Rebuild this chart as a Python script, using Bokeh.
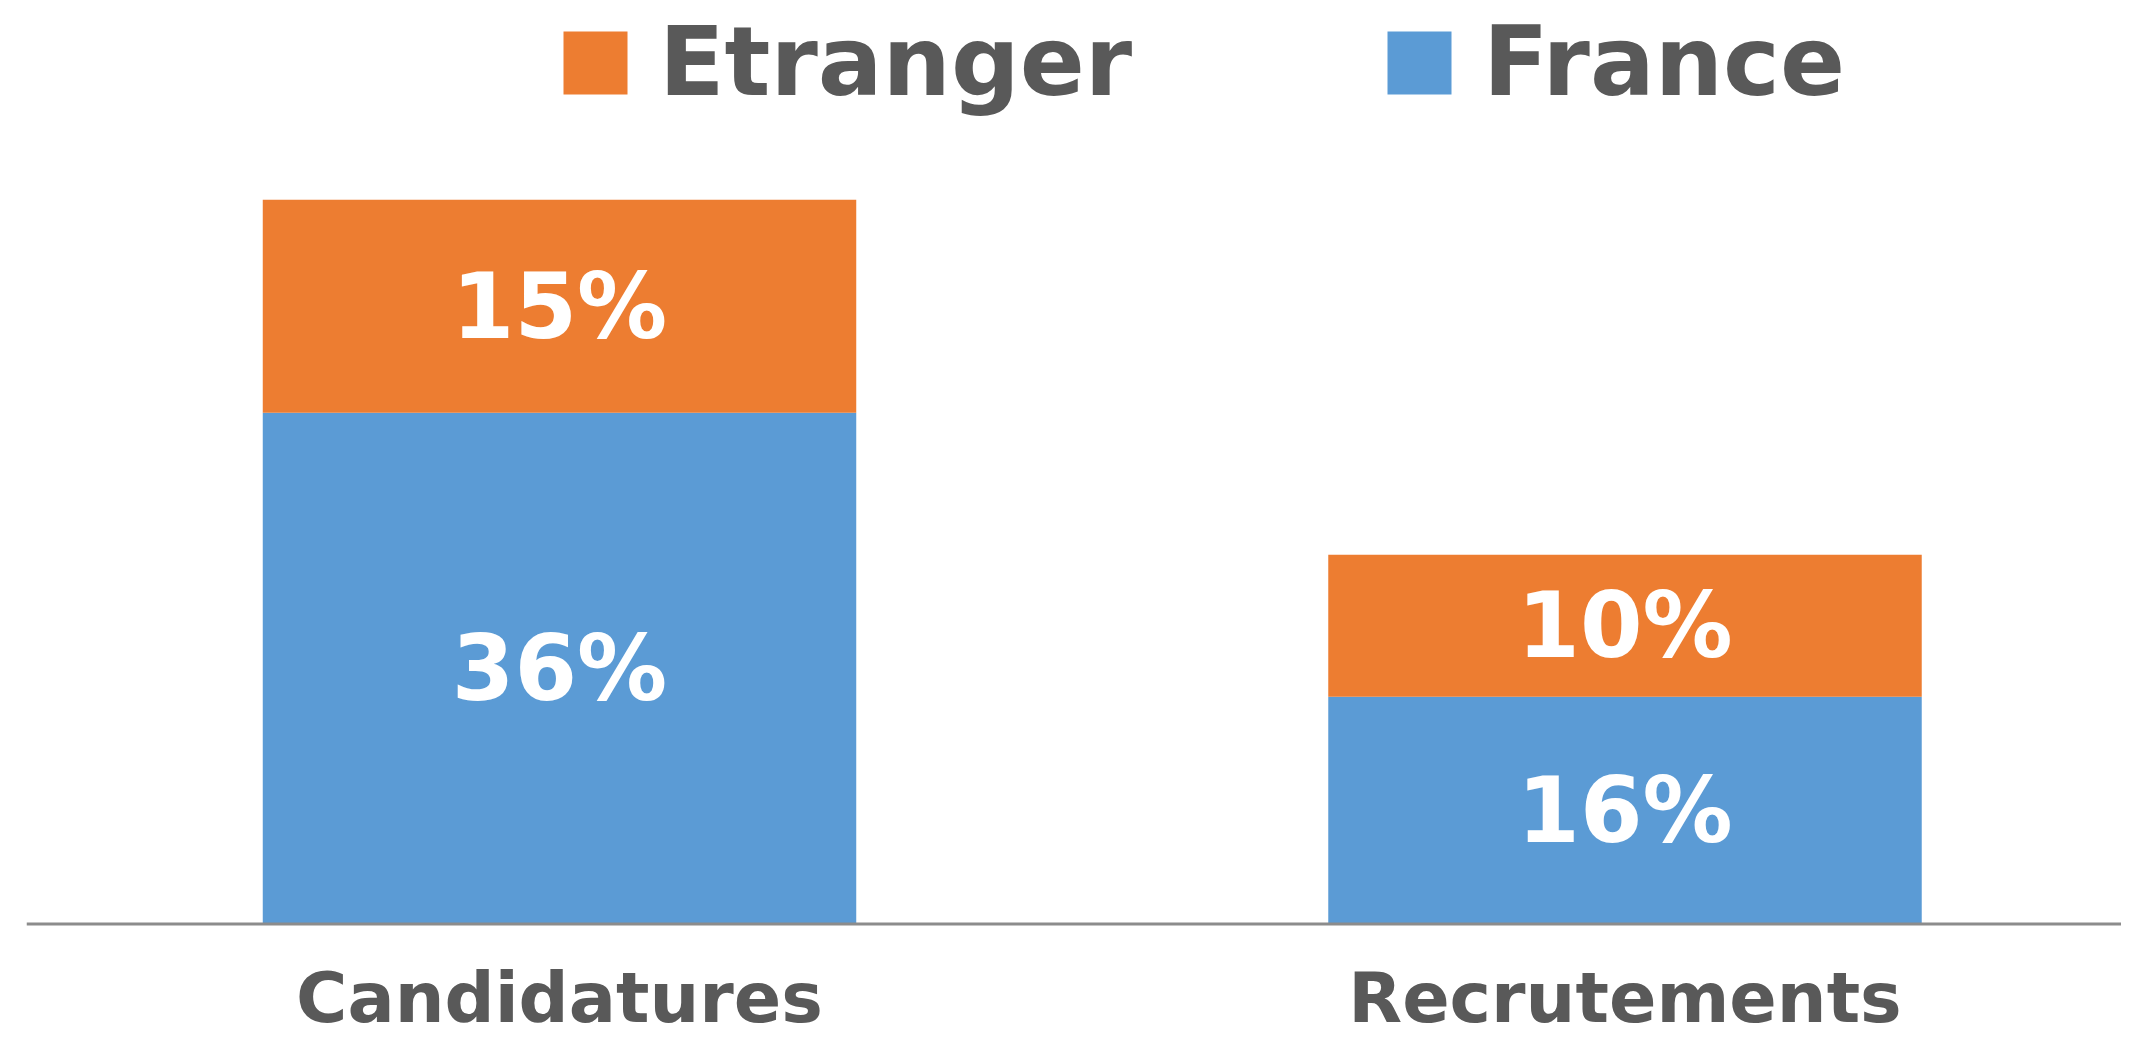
from bokeh.plotting import figure
from bokeh.models import Range1d, Legend, LegendItem, ColumnDataSource
from bokeh.core.properties import value
from bokeh.embed import file_html
from bokeh.resources import INLINE

categories = ["Candidatures", "Recrutements"]
france = [36, 16]
etranger = [15, 10]
legend_labels = ["Etranger", "France"]

BLUE = "#5B9BD5"
ORANGE = "#ED7D31"
GRAY_TXT = "#595959"
FONT = "DejaVu Sans"

xs = [i + 0.5 for i in range(len(categories))]
src = ColumnDataSource(dict(x=xs, cat=categories, France=france, Etranger=etranger))

W, H = 2121, 1044
p = figure(width=W, height=H, output_backend="svg", toolbar_location=None,
           x_range=Range1d(-0.02464, 1.96598), y_range=Range1d(-8.486, 65.035),
           min_border=0, min_border_left=0, min_border_right=0,
           min_border_top=0, min_border_bottom=0)
p.axis.visible = False
p.grid.visible = False
p.outline_line_color = None
p.background_fill_color = "white"
p.border_fill_color = "white"

rs = p.vbar_stack(["France", "Etranger"], x="x", width=0.557, source=src,
                  color=[BLUE, ORANGE], line_color=None)

# baseline (category axis)
p.segment(x0=[0], y0=[0], x1=[len(categories)], y1=[0], line_color="#8C8C8C", line_width=3)

# value labels
lab_x, lab_y, lab_t = [], [], []
for i, x in enumerate(xs):
    lab_x += [x, x]
    lab_y += [france[i] / 2, france[i] + etranger[i] / 2]
    lab_t += [f"{france[i]}%", f"{etranger[i]}%"]
p.text(x=lab_x, y=lab_y, text=lab_t, text_align="center", text_baseline="middle",
       text_color="white", text_font=value(FONT), text_font_style="bold",
       text_font_size="90px")

# category labels
p.text(x=xs, y=[-5.246] * len(xs), text=categories, text_align="center",
       text_baseline="middle", text_color=GRAY_TXT, text_font=value(FONT),
       text_font_style="bold", text_font_size="70px")

legend = Legend(items=[LegendItem(label=legend_labels[0], renderers=[rs[1]]),
                       LegendItem(label=legend_labels[1], renderers=[rs[0]])],
                orientation="horizontal", location=(555, 926),
                glyph_width=80, glyph_height=79, label_standoff=24, spacing=247,
                padding=0, margin=0, border_line_color=None,
                background_fill_alpha=0, label_text_font=FONT,
                label_text_font_style="bold", label_text_font_size="96px",
                label_text_color=GRAY_TXT)
p.add_layout(legend, "center")

open("out.html", "w").write(file_html(p, INLINE))
